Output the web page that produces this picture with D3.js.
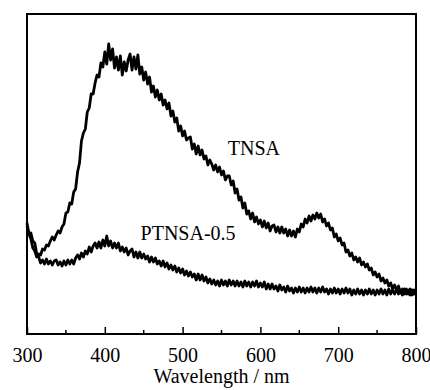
<!DOCTYPE html>
<html>
<head>
<meta charset="utf-8">
<script src="https://cdn.jsdelivr.net/npm/d3@7"></script>
<style>
  body { margin: 0; background: #fff; }
  svg { display: block; }
</style>
</head>
<body>
<script>
'use strict';

// wavelength grid, nm (2.5 nm steps, 300..800)
var wavelengths = d3.range(0, 201).map(function(i){return 300 + 2.5*i;});

// emission intensity, a.u. (one row = 25 nm)
var tnsa = [
    111, 100, 95, 86, 83, 77, 80, 79, 85, 84,
    89, 88, 93, 97, 94, 99, 103, 101, 107, 110,
    121, 122, 131, 130, 142, 145, 162, 171, 193, 201,
    205, 222, 226, 240, 240, 251, 259, 257, 271, 267,
    282, 270, 290, 274, 285, 266, 277, 264, 278, 259,
    272, 263, 274, 280, 264, 277, 265, 279, 260, 267,
    254, 262, 250, 257, 242, 248, 237, 244, 234, 240,
    229, 234, 225, 231, 218, 223, 212, 216, 203, 208,
    198, 203, 194, 196, 197, 185, 190, 180, 188, 179,
    184, 175, 178, 169, 174, 170, 164, 169, 162, 167,
    159, 163, 154, 158, 158, 149, 153, 141, 145, 134,
    137, 126, 131, 120, 123, 115, 121, 112, 117, 110,
    114, 107, 113, 106, 111, 103, 108, 109, 102, 107,
    101, 107, 101, 105, 98, 104, 98, 103, 97, 105,
    102, 110, 107, 115, 111, 118, 113, 119, 115, 121,
    116, 120, 112, 115, 108, 111, 104, 106, 97, 100,
    93, 96, 89, 91, 82, 84, 78, 81, 74, 77,
    72, 76, 69, 72, 67, 70, 64, 66, 59, 62,
    57, 60, 53, 56, 51, 54, 48, 51, 45, 49,
    44, 48, 41, 45, 40, 45, 40, 45, 39, 44,
    43
];

var ptnsa = [
    108, 100, 101, 93, 91, 80, 77, 71, 74, 70,
    75, 70, 73, 69, 73, 74, 69, 72, 68, 73,
    69, 74, 70, 74, 70, 76, 79, 75, 81, 77,
    83, 80, 87, 82, 88, 91, 86, 92, 86, 94,
    88, 98, 88, 93, 86, 91, 86, 91, 83, 87,
    82, 86, 79, 83, 85, 77, 82, 76, 82, 76,
    80, 75, 78, 72, 77, 72, 76, 70, 73, 68,
    73, 67, 71, 65, 69, 64, 68, 62, 66, 61,
    65, 59, 63, 58, 62, 57, 60, 54, 60, 54,
    59, 53, 57, 51, 55, 50, 54, 49, 53, 48,
    54, 49, 53, 48, 54, 49, 53, 48, 53, 48,
    52, 47, 53, 48, 52, 47, 52, 48, 53, 47,
    51, 47, 52, 45, 50, 45, 50, 45, 48, 43,
    49, 44, 47, 42, 48, 43, 46, 41, 46, 42,
    47, 42, 46, 41, 46, 42, 47, 42, 46, 41,
    46, 42, 47, 42, 45, 40, 45, 41, 46, 41,
    45, 40, 45, 41, 46, 41, 45, 39, 44, 40,
    45, 40, 44, 39, 44, 40, 45, 40, 44, 39,
    44, 40, 45, 40, 44, 39, 45, 40, 44, 40,
    45, 40, 44, 39, 45, 40, 44, 39, 44, 40,
    43
];

var xTicks = [300, 400, 500, 600, 700, 800];
var xMinorTicks = [350, 450, 550, 650, 750];

var width = 430, height = 390,
    margin = {left: 27, right: 14, top: 14, bottom: 56},
    font = "'Liberation Serif', 'Times New Roman', serif";

var svg = d3.select("body").append("svg")
        .attr("width", width)
        .attr("height", height),
    x = d3.scaleLinear().domain([300, 800]).range([margin.left, width - margin.right]),
    y = d3.scaleLinear().domain([0, 320]).range([height - margin.bottom, margin.top]);

var line = d3.line()
    .x(function(d){return x(d[0]);})
    .y(function(d){return y(d[1]);});

// curves
[tnsa, ptnsa].forEach(function(series){
    svg.append("path")
        .datum(wavelengths.map(function(w, i){return [w, series[i]];}))
        .attr("fill", "none")
        .attr("stroke", "#000")
        .attr("stroke-width", 2.8)
        .attr("stroke-linejoin", "round")
        .attr("d", line);
});

// bottom axis, ticks pointing inward
var axis = svg.append("g")
    .attr("transform", "translate(0," + (height - margin.bottom) + ")");
axis.call(d3.axisBottom(x).tickValues(xTicks).tickSize(-7).tickPadding(14));
xMinorTicks.forEach(function(t){
    axis.append("line")
        .attr("x1", x(t)).attr("x2", x(t))
        .attr("y1", 0).attr("y2", -4)
        .attr("stroke", "#000").attr("stroke-width", 1.5);
});
axis.select(".domain").remove();
axis.selectAll(".tick line").attr("stroke-width", 1.5);
axis.selectAll("text")
    .attr("font-family", font)
    .attr("font-size", 20)
    .attr("fill", "#000");

// frame
svg.append("rect")
    .attr("x", x(300)).attr("y", y(320))
    .attr("width", x(800) - x(300))
    .attr("height", y(0) - y(320))
    .attr("fill", "none")
    .attr("stroke", "#000")
    .attr("stroke-width", 2);

// series labels
svg.append("text")
    .attr("x", x(558)).attr("y", y(179))
    .attr("font-family", font).attr("font-size", 20)
    .text("TNSA");
svg.append("text")
    .attr("x", x(446)).attr("y", y(94))
    .attr("font-family", font).attr("font-size", 20)
    .text("PTNSA-0.5");

// axis title
svg.append("text")
    .attr("x", (x(300) + x(800)) / 2).attr("y", 383)
    .attr("text-anchor", "middle")
    .attr("font-family", font).attr("font-size", 20)
    .text("Wavelength / nm");
</script>
</body>
</html>
